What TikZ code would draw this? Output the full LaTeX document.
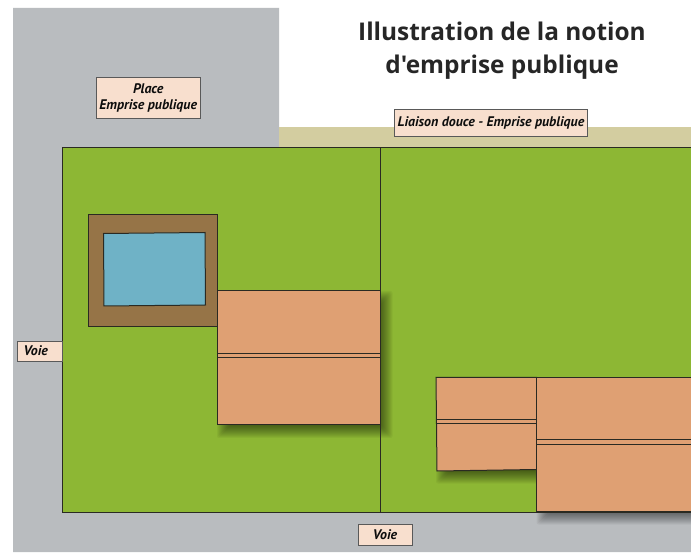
\documentclass[tikz,border=0pt]{standalone}
\usepackage{fontspec}
\newfontfamily\titrefont{Open Sans}
\newfontfamily\etiqfont{PT Sans}
\definecolor{voie}{HTML}{B9BCBF}
\definecolor{douce}{HTML}{D3CDA0}
\definecolor{jardin}{HTML}{8DB734}
\definecolor{terre}{HTML}{967447}
\definecolor{eau}{HTML}{6FB2C6}
\definecolor{bati}{HTML}{DFA073}
\definecolor{etiq}{HTML}{F8DFCE}
\definecolor{trait}{HTML}{2A2A22}
\tikzset{
  contour/.style={draw=trait,line width=1pt,line join=miter},
  etiquette/.style={draw=black!65,line width=0.7pt,fill=etiq,inner sep=0pt,align=center,
    font=\etiqfont\fontsize{13.9}{15.5}\selectfont\bfseries\itshape,text=black!95},
  titre/.style={font=\titrefont\fontsize{24.4}{33}\selectfont\bfseries,align=center,text=black!85,inner sep=0pt},
}
% soft shadow: x0 y0 x1 y1 (pixel coordinates from the top)
\newcommand{\ombre}[4]{%
  \foreach \e in {7,6,...,-7}{%
    \fill[black,opacity=0.045,rounded corners=2pt]
      ({#1+7+\e*1},{552-#2-7-\e*1}) rectangle ({#3+5-\e*1},{552-#4-6+\e*1});
  }%
}
\begin{document}
\begin{tikzpicture}[x=1pt,y=1pt]
\useasboundingbox (0,0) rectangle (691,552);
\fill[white] (0,0) rectangle (691,552);
% ground
\fill[voie] (13,552-8) -- (279,552-8) -- (279,552-148) -- (691,552-148) -- (691,0) -- (13,0) -- cycle;
\fill[douce] (279,552-127) rectangle (691,552-148);
\fill[jardin] (62,552-148) rectangle (691,552-512);
\begin{scope}
\clip (13,0) rectangle (691,552);
\ombre{217}{291}{380.5}{425}
\ombre{436}{377.5}{536.5}{470.5}
\ombre{536.5}{377.5}{700}{511.5}
\end{scope}
\draw[contour] (691,552-148) -- (62,552-148) -- (62,552-512) -- (691,552-512);
\draw[trait,line width=1pt] (380.5,552-148) -- (380.5,552-512);
% pool
\draw[contour,fill=terre] (88,552-215) rectangle (217,552-327);
\draw[contour,fill=eau] (103.5,552-233.5) -- (205,552-232.5) -- (205.5,552-305) -- (104,552-306) -- cycle;
% house 1
\draw[contour,fill=bati] (217,552-291) rectangle (380.5,552-425);
\draw[contour] (217,552-353.7) -- (380.5,552-353.7);
\draw[contour] (217,552-358) -- (380.5,552-358);
% house 2
\draw[contour,fill=bati] (436,552-377.5) -- (536.5,552-377.5) -- (536.5,552-469.5) -- (437,552-471) -- cycle;
\draw[contour] (436.3,552-419.3) -- (536.5,552-419.3);
\draw[contour] (436.3,552-424) -- (536.5,552-424);
% house 3
\draw[contour,fill=bati] (691,552-377.5) -- (536.5,552-377.5) -- (536.5,552-511.5) -- (691,552-511.5);
\draw[contour] (536.5,552-440) -- (691,552-440);
\draw[contour] (536.5,552-444.3) -- (691,552-444.3);
% texts
\node[titre] (titre) at (502,552-50.7) {Illustration de la notion\\d'emprise publique};
\node[etiquette,minimum width=104.5pt,minimum height=41pt] (place) at (148.2,552-98) {\raisebox{-1.5pt}{\parbox{100pt}{\centering Place\\Emprise publique}}};
\node[etiquette,minimum width=193.4pt,minimum height=27.5pt] (liaison) at (491,552-122.7) {Liaison douce - Emprise publique};
\node[etiquette,minimum width=44.5pt,minimum height=20pt] (voieg) at (39.7,552-351) {\hspace*{-8pt}Voie};
\node[etiquette,minimum width=54pt,minimum height=21pt] (voieb) at (385,552-534.5) {Voie};
\end{tikzpicture}
\end{document}
